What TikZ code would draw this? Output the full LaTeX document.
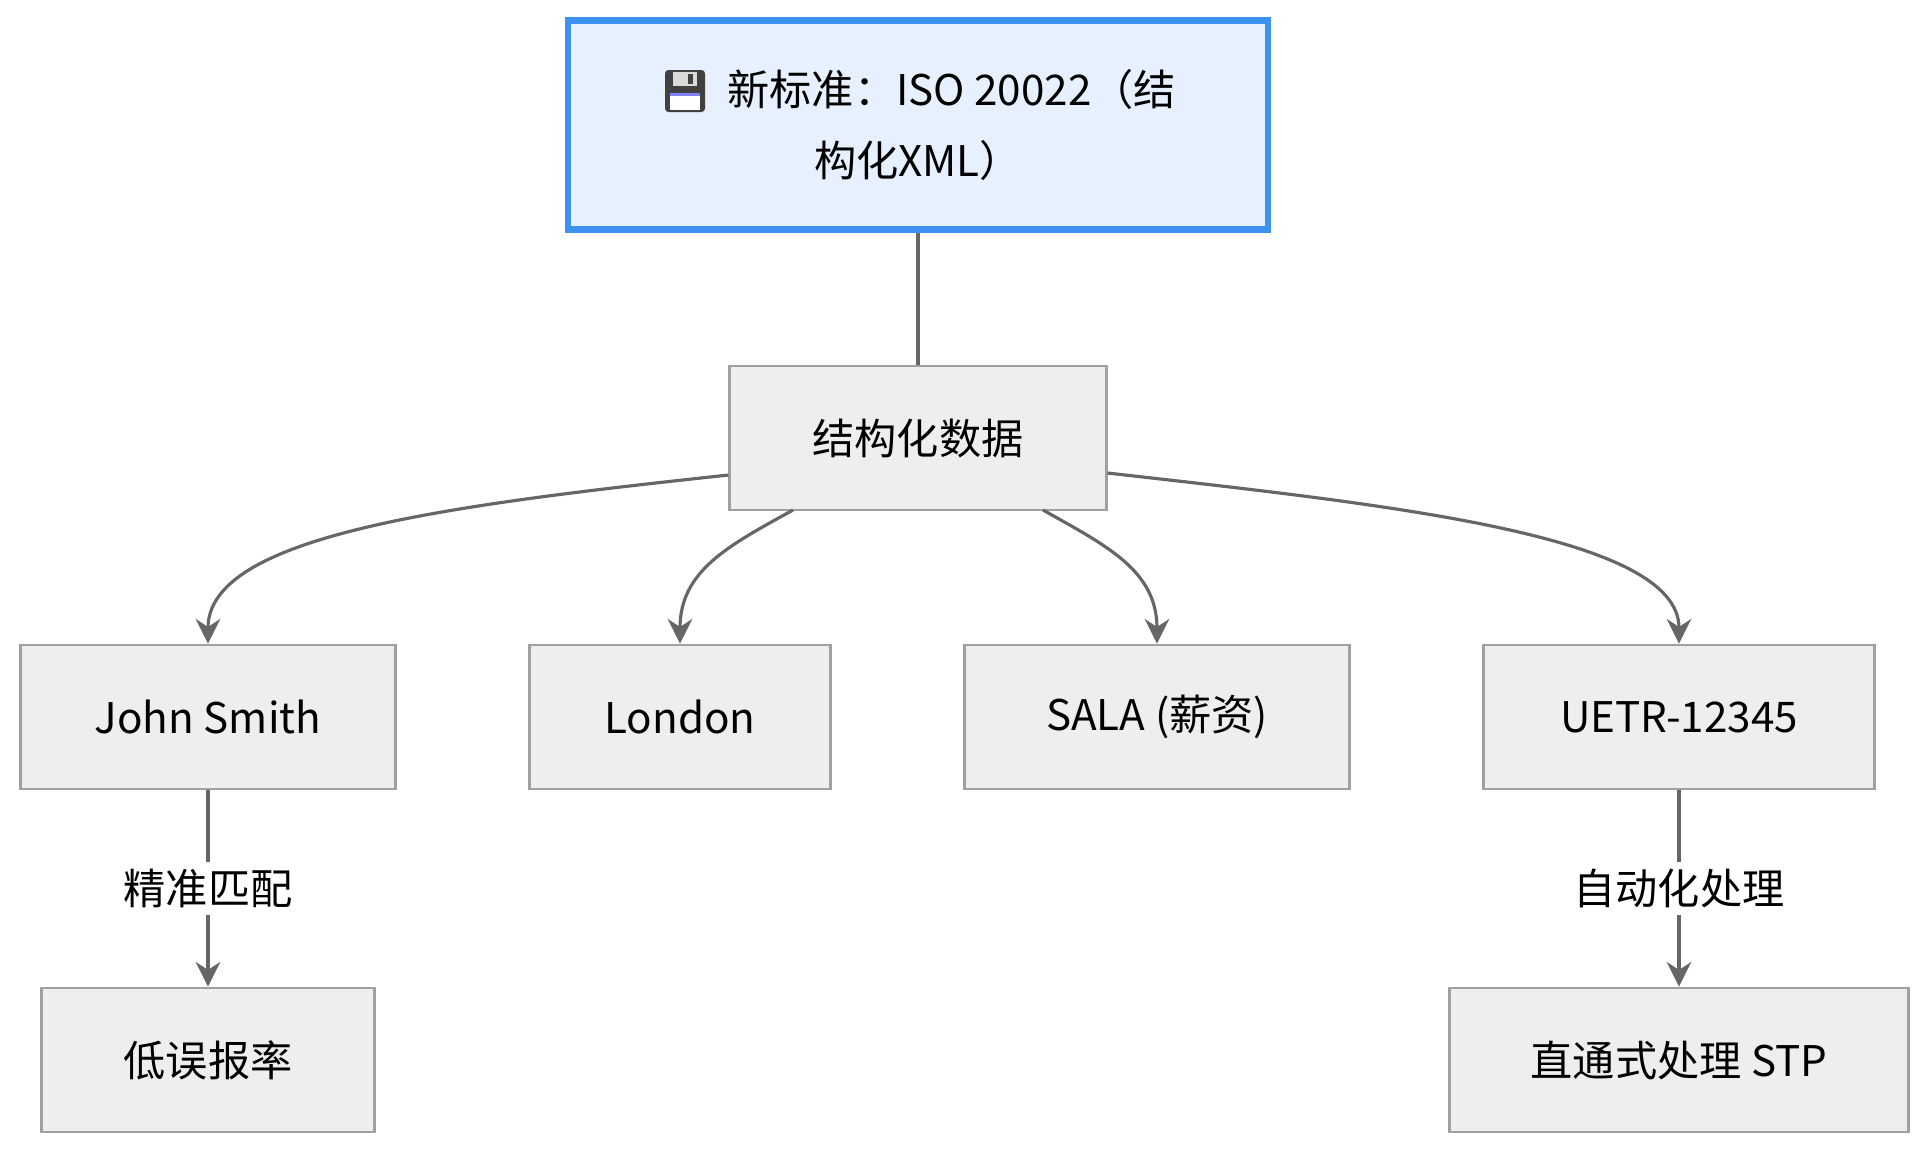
\documentclass[tikz,border=0pt]{standalone}
\usepackage{fontspec}
\setmainfont{Noto Sans CJK SC}
\usetikzlibrary{arrows.meta,positioning}
\definecolor{boxfill}{HTML}{EEEEEE}
\definecolor{boxline}{HTML}{A0A0A0}
\definecolor{topfill}{HTML}{E6F0FF}
\definecolor{topline}{HTML}{3C92EE}
\definecolor{edgecol}{HTML}{666666}
\tikzset{>={Stealth[length=7pt,width=7pt]},
  box/.style={draw=boxline,fill=boxfill,line width=0.8pt,minimum height=1.44cm,
    inner sep=0pt,font=\fontsize{12}{14}\selectfont},
  topbox/.style={box,draw=topline,fill=topfill,line width=1.8pt,minimum height=2.09cm,
    minimum width=6.99cm,align=center,font=\fontsize{12}{20}\selectfont},
  link/.style={draw=edgecol,line width=0.9pt},
  lbl/.style={fill=white,font=\fontsize{12}{14}\selectfont,inner sep=2pt}}
\begin{document}
\begin{tikzpicture}[x=0.01cm,y=-0.01cm]
  \useasboundingbox (0,0) rectangle (1920,1150);
  % nodes
  \node[topbox] (iso) at (918,125) {\hspace{1.6em}新标准：ISO 20022（结\\构化XML）};
  \node[box,minimum width=3.76cm] (data) at (918,438) {结构化数据};
  \node[box,minimum width=3.74cm] (john) at (208,717) {John Smith};
  \node[box,minimum width=3.01cm] (london) at (680,717) {London};
  \node[box,minimum width=3.84cm] (sala) at (1157,717) {SALA (薪资)};
  \node[box,minimum width=3.91cm] (uetr) at (1679,717) {UETR-12345};
  \node[box,minimum width=3.32cm] (low) at (208,1060) {低误报率};
  \node[box,minimum width=4.59cm] (stp) at (1679,1060) {直通式处理 STP};
  % floppy icon
  \fill[black!75,rounded corners=1pt] (665,70) rectangle (705,112);
  \fill[black!15] (673,72) rectangle (697,86);
  \fill[black!75] (688,74) rectangle (693,84);
  \fill[white] (670,93) rectangle (700,110);
  \fill[blue!50] (670,93) rectangle (700,96);
  % edges
  \draw[link] (iso) -- (data);
  \draw[link,->] (data.west |- 0,475) .. controls (450,505) and (208,535) .. (john.north);
  \draw[link,->] (793,510) .. controls (730,545) and (680,570) .. (london.north);
  \draw[link,->] (1043,510) .. controls (1105,545) and (1157,570) .. (sala.north);
  \draw[link,->] (data.east |- 0,473) .. controls (1390,505) and (1679,535) .. (uetr.north);
  \draw[link,->] (john) -- node[lbl] {精准匹配} (low);
  \draw[link,->] (uetr) -- node[lbl] {自动化处理} (stp);
\end{tikzpicture}
\end{document}
